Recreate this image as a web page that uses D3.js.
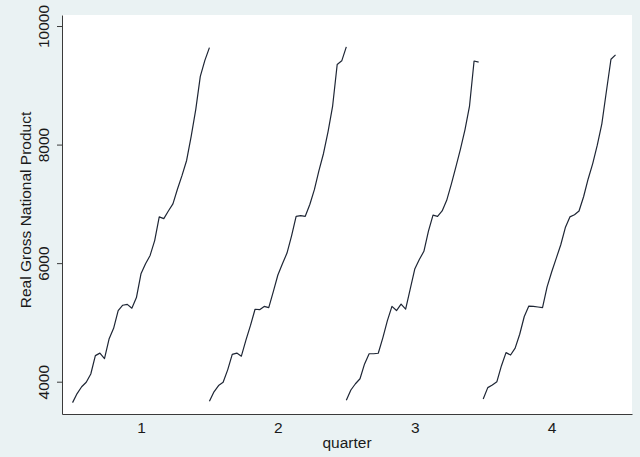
<!DOCTYPE html>
<html>
<head>
<meta charset="utf-8">
<script src="https://cdn.jsdelivr.net/npm/d3@7"></script>
<style>
    body { margin: 0; background: #eaf2f3; }
    text { font-family: "Liberation Sans", Arial, sans-serif; }
</style>
</head>
<body>
<div id="line_graph"></div>
<script>
// data: one GNP series per quarter, yearly points
var years = [1970, 1971, 1972, 1973, 1974, 1975, 1976, 1977, 1978, 1979,
    1980, 1981, 1982, 1983, 1984, 1985, 1986, 1987, 1988, 1989,
    1990, 1991, 1992, 1993, 1994, 1995, 1996, 1997, 1998, 1999, 2000];
var quarters = [1, 2, 3, 4];
var gnpQ1 = [3647, 3800, 3915, 3990, 4130, 4440, 4482, 4390, 4720, 4900,
    5200, 5290, 5305, 5240, 5420, 5820, 5990, 6130, 6380, 6780,
    6750, 6880, 7000, 7250, 7480, 7732, 8140, 8590, 9150, 9420, 9636];
var gnpQ2 = [3669, 3830, 3935, 3990, 4200, 4460, 4482, 4430, 4700, 4950,
    5222, 5215, 5270, 5250, 5520, 5800, 5990, 6170, 6460, 6790,
    6800, 6790, 6990, 7240, 7560, 7850, 8220, 8650, 9350, 9413, 9648];
var gnpQ3 = [3686, 3860, 3965, 4050, 4300, 4471, 4471, 4480, 4740, 5030,
    5270, 5200, 5310, 5225, 5560, 5900, 6060, 6200, 6540, 6810,
    6790, 6880, 7060, 7330, 7620, 7920, 8250, 8650, 9410, 9390];
var gnpQ4 = [3709, 3900, 3945, 4000, 4270, 4490, 4450, 4566, 4800, 5100,
    5275, 5270, 5260, 5250, 5600, 5850, 6080, 6310, 6600, 6780,
    6815, 6880, 7120, 7420, 7680, 7990, 8350, 8900, 9440, 9514];
var yTicks = [4000, 6000, 8000, 10000];

function DrawChart() {
    var series = [gnpQ1, gnpQ2, gnpQ3, gnpQ4];
    var margin = { top: 15, right: 8, bottom: 43, left: 62 },
        width = 640 - margin.left - margin.right,
        height = 457 - margin.top - margin.bottom;

    var svg = d3.select("#line_graph")
        .append("svg")
        .attr("width", width + margin.left + margin.right)
        .attr("height", height + margin.top + margin.bottom)
        .style("display", "block");

    // graph region + plot region
    svg.append("rect")
        .attr("width", width + margin.left + margin.right)
        .attr("height", height + margin.top + margin.bottom)
        .attr("fill", "#eaf2f3");

    var g = svg.append("g")
        .attr("transform", "translate(" + margin.left + "," + margin.top + ")");

    g.append("rect")
        .attr("width", width)
        .attr("height", height)
        .attr("fill", "#ffffff");

    var x = d3.scaleLinear()
        .domain([0.423, 4.587])
        .range([0, width]);

    var y = d3.scaleLinear()
        .domain([3455, 10186])
        .range([height, 0]);

    var span = years[years.length - 1] - years[0];

    // each quarter's years are spread over [q - 0.5, q + 0.5]
    var line = d3.line()
        .x(function (d) { return x(d.q - 0.5 + (d.year - years[0]) / span); })
        .y(function (d) { return y(d.value); });

    series.forEach(function (values, k) {
        var pts = values.map(function (v, i) {
            return { q: quarters[k], year: years[i], value: v };
        });
        g.append("path")
            .datum(pts)
            .attr("fill", "none")
            .attr("stroke", "#1e2635")
            .attr("stroke-width", 1.2)
            .attr("stroke-linejoin", "round")
            .attr("d", line);
    });

    // Y axis
    var yAxis = g.append("g")
        .call(d3.axisLeft(y).tickValues(yTicks).tickSize(5).tickSizeOuter(0).tickFormat(d3.format("d")));
    yAxis.selectAll("text")
        .attr("x", 0)
        .attr("y", -13)
        .attr("dy", null)
        .attr("text-anchor", "middle")
        .attr("transform", "rotate(-90)");

    // X axis, no tick marks
    var xAxis = g.append("g")
        .attr("transform", "translate(0," + height + ")")
        .call(d3.axisBottom(x).tickValues(quarters).tickSize(0).tickSizeOuter(0).tickFormat(d3.format("d")));
    xAxis.selectAll("text")
        .attr("y", 18.5)
        .attr("dy", null);

    [xAxis, yAxis].forEach(function (a) {
        a.select(".domain").attr("stroke", "#3a3a3a");
        a.selectAll(".tick line").attr("stroke", "#3a3a3a");
        a.selectAll("text")
            .attr("fill", "#1a1a1a")
            .style("font-size", "15.5px")
            .style("font-family", "'Liberation Sans', Arial, sans-serif");
    });

    // text label for the x axis
    svg.append("text")
        .attr("x", margin.left + width / 2)
        .attr("y", 448)
        .style("text-anchor", "middle")
        .style("font-size", "15.5px")
        .attr("fill", "#1a1a1a")
        .text("quarter");

    // text label for the y axis
    svg.append("text")
        .attr("transform", "rotate(-90)")
        .attr("x", -210)
        .attr("y", 31)
        .style("text-anchor", "middle")
        .style("font-size", "15.5px")
        .attr("fill", "#1a1a1a")
        .text("Real Gross National Product");
}

DrawChart();
</script>
</body>
</html>
